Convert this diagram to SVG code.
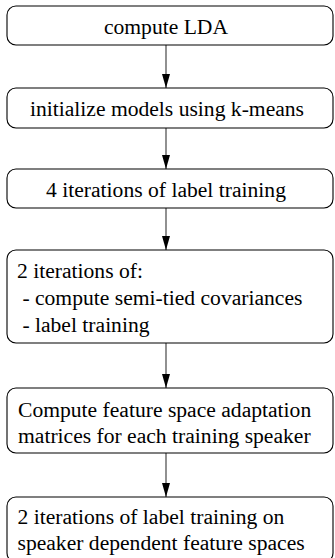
<svg xmlns="http://www.w3.org/2000/svg" width="335" height="558" viewBox="0 0 335 558">
<style>
  .box { fill: #fff; stroke: #000; stroke-width: 1.1; }
  .t { font-family: 'Liberation Serif', 'Times New Roman', serif; font-size: 21.6px; fill: #000; }
  .c { text-anchor: middle; }
  .edge { stroke: #555; stroke-width: 1.3; fill: none; marker-end: url(#ah); }
</style>
<defs>
  <marker id="ah" markerWidth="14" markerHeight="8" refX="14" refY="4" orient="auto" markerUnits="userSpaceOnUse" viewBox="0 0 14 8">
    <path d="M0,0 L14,4 L0,8 Z" fill="#000"/>
  </marker>
</defs>
<rect width="335" height="558" fill="#fff"/>
<g id="connectors">
  <line class="edge" x1="166" y1="45" x2="166" y2="88"/>
  <line class="edge" x1="166" y1="128" x2="166" y2="169"/>
  <line class="edge" x1="166" y1="208" x2="166" y2="250"/>
  <line class="edge" x1="166" y1="343" x2="166" y2="388"/>
  <line class="edge" x1="166" y1="453" x2="166" y2="497"/>
</g>
<g id="n1">
  <rect class="box" x="7" y="6" width="326" height="39" rx="9"/>
  <text class="t c" x="166" y="33.5">compute LDA</text>
</g>
<g id="n2">
  <rect class="box" x="7" y="88" width="326" height="40" rx="9"/>
  <text class="t c" x="167" y="115.5">initialize models using k-means</text>
</g>
<g id="n3">
  <rect class="box" x="7" y="169" width="326" height="39" rx="9"/>
  <text class="t c" x="166" y="196.5">4 iterations of label training</text>
</g>
<g id="n4">
  <rect class="box" x="7" y="250" width="326" height="93" rx="9"/>
  <text class="t" x="17" y="278" xml:space="preserve">2 iterations of:</text>
  <text class="t" x="17" y="305" xml:space="preserve"> - compute semi-tied covariances</text>
  <text class="t" x="17" y="332" xml:space="preserve"> - label training</text>
</g>
<g id="n5">
  <rect class="box" x="7" y="388" width="326" height="65" rx="9"/>
  <text class="t" x="18" y="416.5">Compute feature space adaptation</text>
  <text class="t" x="18" y="443">matrices for each training speaker</text>
</g>
<g id="n6">
  <rect class="box" x="7" y="497" width="326" height="65" rx="9"/>
  <text class="t" x="17.5" y="523.5">2 iterations of label training on</text>
  <text class="t" x="17.5" y="550">speaker dependent feature spaces</text>
</g>
</svg>
